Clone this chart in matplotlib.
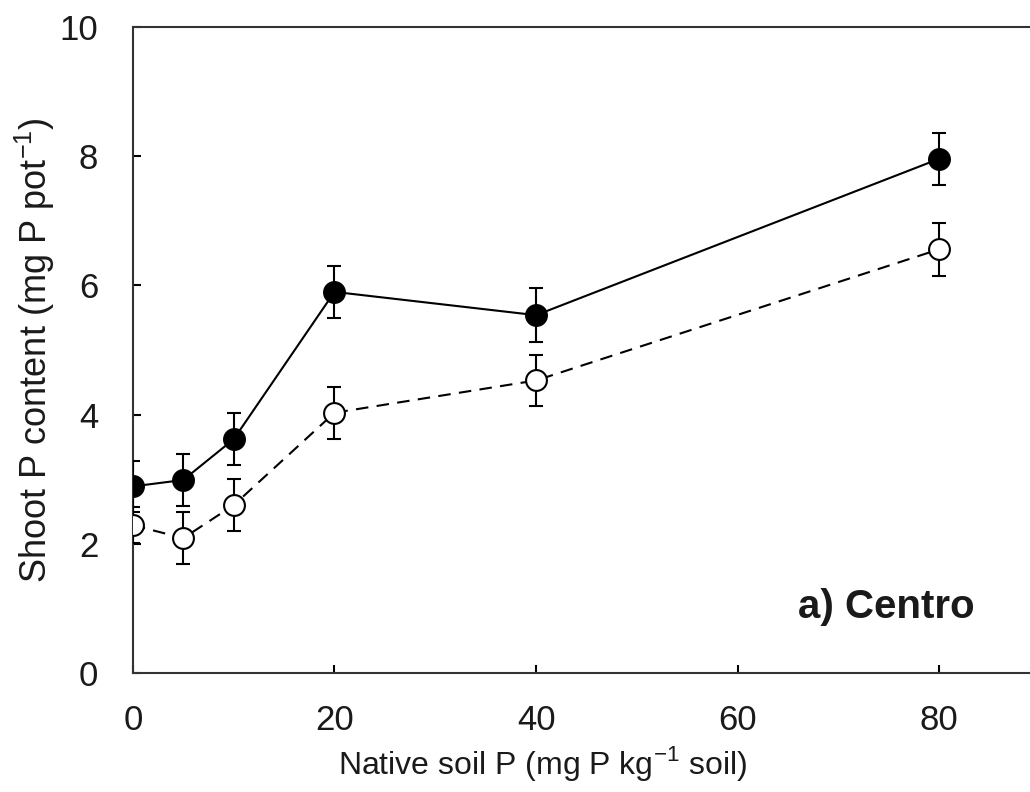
import numpy as np
import matplotlib.pyplot as plt

plt.rcParams['font.family'] = ['Liberation Sans', 'DejaVu Sans']
plt.rcParams['mathtext.fontset'] = 'custom'
plt.rcParams['mathtext.rm'] = 'Liberation Sans'

native_p = [0, 5, 10, 20, 40, 80]
filled_y = [2.89, 2.99, 3.62, 5.90, 5.54, 7.96]
filled_err = [0.40, 0.40, 0.40, 0.40, 0.42, 0.40]
open_y = [2.29, 2.09, 2.60, 4.03, 4.53, 6.56]
open_err = [0.28, 0.40, 0.40, 0.40, 0.40, 0.41]

text_col = '#1a1a1a'

fig = plt.figure(figsize=(10.3, 7.92), dpi=100)
ax = fig.add_axes([0.129, 0.150, 0.871, 0.816])

ax.errorbar(native_p, filled_y, yerr=filled_err, color='black', lw=1.5,
            marker='o', ms=15.5, mfc='black', mec='black', capsize=4.7,
            elinewidth=1.5, capthick=1.5, zorder=3)
ax.errorbar(native_p, open_y, yerr=open_err, color='black', lw=1.5,
            linestyle=(0, (6, 4)), marker='o', ms=15, mfc='white', mec='black',
            mew=1.5, capsize=4.7, elinewidth=1.5, capthick=1.5, zorder=3)

ax.set_xlim(0, 89)
ax.set_ylim(0, 10)
ax.set_xticks([0, 20, 40, 60, 80])
ax.set_yticks([0, 2, 4, 6, 8, 10])
ax.tick_params(direction='in', length=6, width=1.5, labelsize=25,
               labelcolor=text_col)
ax.tick_params(axis='x', pad=22)
ax.tick_params(axis='y', pad=25)
ax.spines['right'].set_visible(False)
for s in ['left', 'bottom', 'top']:
    ax.spines[s].set_linewidth(1.5)
    ax.spines[s].set_color('#333333')

ax.set_xlabel('Native soil P (mg P kg$^{-1}$ soil)', fontsize=23, labelpad=5,
              color=text_col, x=0.457)
ax.set_ylabel('Shoot P content (mg P pot$^{-1}$)', fontsize=26, labelpad=2,
              color=text_col)
ax.text(83.5, 1.02, 'a) Centro', fontsize=29, fontweight='bold',
        ha='right', va='center', color=text_col)

plt.savefig('out.png', dpi=100)
